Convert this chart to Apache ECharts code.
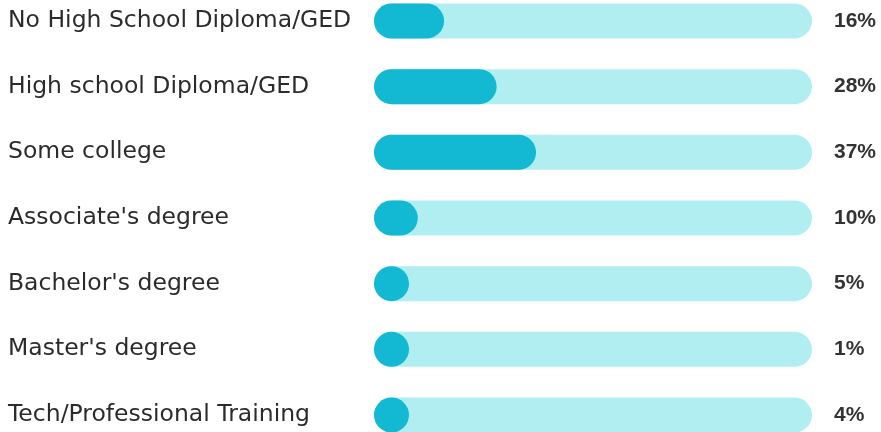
<!DOCTYPE html>
<html>
<head>
<meta charset="utf-8">
<script src="https://cdn.jsdelivr.net/npm/echarts@6/dist/echarts.min.js"></script>
<style>
  html, body { margin: 0; padding: 0; background: #fff; }
  #chart { width: 881px; height: 432px; }
</style>
</head>
<body>
<div id="chart"></div>
<script>
// 学历分布
var categories = [
  "No High School Diploma/GED",
  "High school Diploma/GED",
  "Some college",
  "Associate's degree",
  "Bachelor's degree",
  "Master's degree",
  "Tech/Professional Training"
];
var values = [16, 28, 37, 10, 5, 1, 4];
var trackMax = 100;

var barH = 35;
var myChart = echarts.init(document.getElementById("chart"));

myChart.setOption({
  animation: false,
  grid: { left: 374, right: 69, top: 21, bottom: 17 },
  xAxis: {
    type: "value",
    min: 0,
    max: trackMax,
    show: false
  },
  yAxis: [
    {
      type: "category",
      data: categories,
      inverse: true,
      boundaryGap: false,
      axisLine: { show: false },
      axisTick: { show: false },
      axisLabel: {
        align: "left",
        margin: 366,
        fontFamily: "DejaVu Sans",
        fontSize: 23.5,
        color: "#2b2b2b"
      }
    },
    {
      type: "category",
      data: categories,
      inverse: true,
      boundaryGap: false,
      position: "right",
      axisLine: { show: false },
      axisTick: { show: false },
      axisLabel: {
        align: "left",
        margin: 22,
        fontFamily: "Liberation Sans",
        fontWeight: "bold",
        fontSize: 21,
        color: "#333",
        formatter: function (v, i) {
          return values[i] + "%";
        }
      }
    }
  ],
  series: [
    {
      // 背景轨道
      type: "bar",
      data: categories.map(function () { return trackMax; }),
      barWidth: barH,
      silent: true,
      itemStyle: { color: "#b1eef1", borderRadius: barH / 2 },
      z: 1
    },
    {
      // 进度条，最短也是一个圆
      type: "custom",
      data: values.map(function (v, i) { return [v, i]; }),
      encode: { x: 0, y: 1 },
      renderItem: function (params, api) {
        var start = api.coord([0, api.value(1)]);
        var end = api.coord([api.value(0), api.value(1)]);
        var w = Math.max(end[0] - start[0], barH);
        return {
          type: "rect",
          shape: {
            x: start[0],
            y: start[1] - barH / 2,
            width: w,
            height: barH,
            r: barH / 2
          },
          style: { fill: "#13b8d2" }
        };
      },
      z: 2
    }
  ]
});
</script>
</body>
</html>
